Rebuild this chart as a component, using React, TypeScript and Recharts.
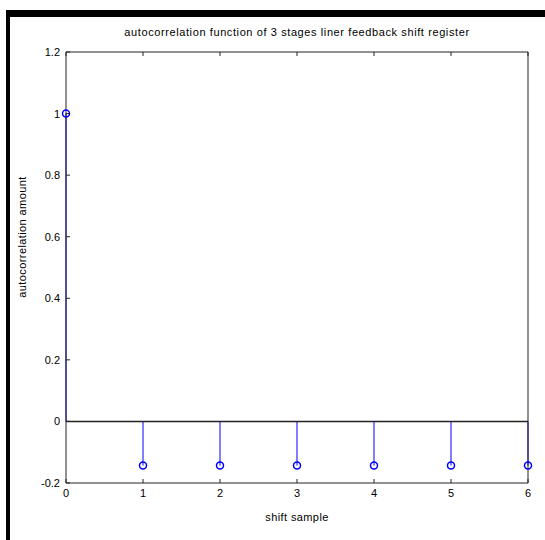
import {
  Bar,
  ComposedChart,
  ReferenceLine,
  Scatter,
  XAxis,
  YAxis,
} from 'recharts'

const lags = [0, 1, 2, 3, 4, 5, 6]
const autocorr = [1, -0.143, -0.143, -0.143, -0.143, -0.143, -0.143]
const xTicks = [0, 1, 2, 3, 4, 5, 6]
const yTicks = [-0.2, 0, 0.2, 0.4, 0.6, 0.8, 1, 1.2]

const data = lags.map((lag, i) => ({ lag, value: autocorr[i] }))

const FONT = '"Liberation Sans", Arial, sans-serif'
const AXIS = '#222'
const STEM = '#0000ff'

function BottomTick({ x, y, payload }: any) {
  return (
    <g>
      <line x1={x} y1={y} x2={x} y2={y - 4} stroke={AXIS} />
      <text x={x} y={y + 14} textAnchor="middle" fontSize={11} fontFamily={FONT} fill="#000">
        {payload.value}
      </text>
    </g>
  )
}

function TopTick({ x, y }: any) {
  return <line x1={x} y1={y} x2={x} y2={y + 4} stroke={AXIS} />
}

function LeftTick({ x, y, payload }: any) {
  return (
    <g>
      <line x1={x} y1={y} x2={x + 4} y2={y} stroke={AXIS} />
      <text x={x - 6} y={y + 4} textAnchor="end" fontSize={11} fontFamily={FONT} fill="#000">
        {payload.value}
      </text>
    </g>
  )
}

function RightTick({ x, y }: any) {
  return <line x1={x} y1={y} x2={x - 4} y2={y} stroke={AXIS} />
}

function OpenCircle({ cx, cy }: any) {
  return <circle cx={cx} cy={cy} r={3.5} fill="none" stroke={STEM} strokeWidth={1.5} />
}

export default function App() {
  return (
    <div style={{ position: 'absolute', left: 0, top: 0, width: 545, height: 540, background: '#fff' }}>
      {/* window frame */}
      <div style={{ position: 'absolute', left: 6, top: 10, width: 539, height: 7, background: '#000' }} />
      <div style={{ position: 'absolute', left: 6, top: 10, width: 4, height: 530, background: '#000' }} />
      <div
        style={{
          position: 'absolute',
          left: 66,
          width: 462,
          top: 26,
          textAlign: 'center',
          fontFamily: FONT,
          fontSize: 11,
          letterSpacing: 0.6,
          color: '#000',
        }}
      >
        autocorrelation function of 3 stages liner feedback shift register
      </div>
      <div
        style={{
          position: 'absolute',
          left: 66,
          width: 462,
          top: 511,
          textAlign: 'center',
          fontFamily: FONT,
          fontSize: 11,
          letterSpacing: 0.4,
          color: '#000',
        }}
      >
        shift sample
      </div>
      <div
        style={{
          position: 'absolute',
          left: 22,
          top: 237,
          transform: 'translate(-50%, -50%) rotate(-90deg)',
          whiteSpace: 'nowrap',
          fontFamily: FONT,
          fontSize: 11,
          letterSpacing: 0.4,
          color: '#000',
        }}
      >
        autocorrelation amount
      </div>
      <div style={{ position: 'absolute', left: 0, top: 0 }}>
        <ComposedChart
          width={545}
          height={540}
          data={data}
          margin={{ top: 51, right: 16, bottom: 27, left: 26 }}
        >
          <XAxis
            xAxisId="bottom"
            dataKey="lag"
            type="number"
            domain={[0, 6]}
            ticks={xTicks}
            height={30}
            tickSize={0}
            tickMargin={0}
            tick={<BottomTick />}
            axisLine={{ stroke: AXIS }}
            tickLine={false}
            interval={0}
          />
          <XAxis
            xAxisId="top"
            orientation="top"
            dataKey="lag"
            type="number"
            domain={[0, 6]}
            ticks={xTicks}
            height={1}
            tickSize={0}
            tickMargin={0}
            tick={<TopTick />}
            axisLine={{ stroke: AXIS }}
            tickLine={false}
            interval={0}
          />
          <YAxis
            yAxisId="left"
            type="number"
            domain={[-0.2, 1.2]}
            ticks={yTicks}
            width={40}
            tickSize={0}
            tickMargin={0}
            tick={<LeftTick />}
            axisLine={{ stroke: AXIS }}
            tickLine={false}
            interval={0}
          />
          <YAxis
            yAxisId="right"
            orientation="right"
            type="number"
            domain={[-0.2, 1.2]}
            ticks={yTicks}
            width={1}
            tickSize={0}
            tickMargin={0}
            tick={<RightTick />}
            axisLine={{ stroke: AXIS }}
            tickLine={false}
            interval={0}
          />
          <ReferenceLine xAxisId="bottom" yAxisId="left" y={0} stroke={AXIS} strokeWidth={1.5} />
          <Bar
            xAxisId="bottom"
            yAxisId="left"
            dataKey="value"
            barSize={1}
            fill={STEM}
            isAnimationActive={false}
          />
          <Scatter
            xAxisId="bottom"
            yAxisId="left"
            dataKey="value"
            shape={<OpenCircle />}
            isAnimationActive={false}
          />
        </ComposedChart>
      </div>
    </div>
  )
}
